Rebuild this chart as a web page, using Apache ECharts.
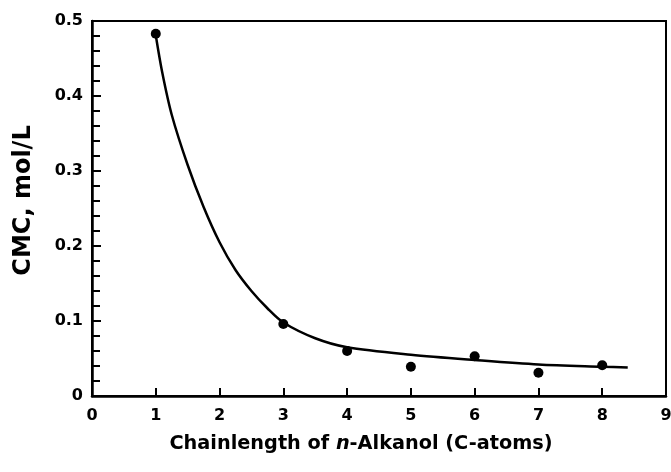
<!DOCTYPE html>
<html>
<head>
<meta charset="utf-8">
<script src="https://cdn.jsdelivr.net/npm/echarts@6/dist/echarts.min.js"></script>
<style>html,body{margin:0;padding:0;background:#fff;}#c{width:671px;height:472px;}</style>
</head>
<body>
<div id="c"></div>
<script>
// Measured data points (C-atoms vs CMC, mol/L)
var chainLength = [1, 3, 4, 5, 6, 7, 8];
var cmcValues = [0.483, 0.096, 0.060, 0.039, 0.053, 0.031, 0.041];
// Fitted curve
var fitX = [1.0, 1.1, 1.25, 1.5, 1.75, 2.0, 2.25, 2.5, 2.75, 3.0, 3.5, 4.0, 5.0, 6.0, 7.0, 8.0, 8.4];
var fitY = [0.481, 0.432, 0.375, 0.308, 0.252, 0.205, 0.168, 0.140, 0.117, 0.098, 0.077, 0.065, 0.055, 0.048, 0.042, 0.039, 0.038];
var xTicks = [0, 1, 2, 3, 4, 5, 6, 7, 8, 9];
var yTicks = [0, 0.1, 0.2, 0.3, 0.4, 0.5];

var font = 'DejaVu Sans';
var chart = echarts.init(document.getElementById('c'), null, {renderer: 'canvas'});
chart.setOption({
  animation: false,
  backgroundColor: '#fff',
  grid: {left: 92, top: 21, right: 5, bottom: 76, outerBoundsMode: 'none', containLabel: false,
    show: true, borderColor: '#000', borderWidth: 2, backgroundColor: 'transparent'},
  xAxis: {
    type: 'value', min: xTicks[0], max: xTicks[xTicks.length - 1], interval: 1,
    name: 'Chainlength of {i|n}-Alkanol (C-atoms)',
    nameLocation: 'middle', nameGap: 38,
    nameTextStyle: {fontFamily: font, fontWeight: 'bold', fontSize: 19.3, color: '#000', padding: [0, 36, 0, 0],
      rich: {i: {fontFamily: font, fontWeight: 'bold', fontStyle: 'italic', fontSize: 19.3, color: '#000'}}},
    axisLine: {lineStyle: {color: '#000', width: 2.5}},
    axisTick: {inside: true, length: 8, lineStyle: {color: '#000', width: 2}},
    axisLabel: {fontFamily: font, fontWeight: 'bold', fontSize: 16, color: '#000', margin: 12},
    splitLine: {show: false}
  },
  yAxis: {
    type: 'value', min: yTicks[0], max: yTicks[yTicks.length - 1], interval: 0.1,
    name: 'CMC, mol/L', nameLocation: 'middle', nameGap: 56, nameRotate: 90,
    nameTextStyle: {fontFamily: font, fontWeight: 'bold', fontSize: 24, color: '#000', padding: [0, 0, 0, 16]},
    axisLine: {lineStyle: {color: '#000', width: 2.5}},
    axisTick: {inside: true, length: 9, lineStyle: {color: '#000', width: 2}},
    minorTick: {show: true, splitNumber: 5, length: 8, lineStyle: {color: '#000', width: 2}},
    axisLabel: {fontFamily: font, fontWeight: 'bold', fontSize: 16, color: '#000', margin: 9,
      formatter: function (v) { return v === 0 ? '0' : v.toFixed(1); }},
    splitLine: {show: false}
  },
  series: [
    {type: 'line', data: fitX.map(function (x, i) { return [x, fitY[i]]; }), smooth: 0.3, showSymbol: false,
      lineStyle: {color: '#000', width: 2.5}, z: 2},
    {type: 'scatter', data: chainLength.map(function (x, i) { return [x, cmcValues[i]]; }), symbol: 'circle', symbolSize: 10,
      itemStyle: {color: '#000', opacity: 1}, z: 3}
  ]
});
</script>
</body>
</html>
